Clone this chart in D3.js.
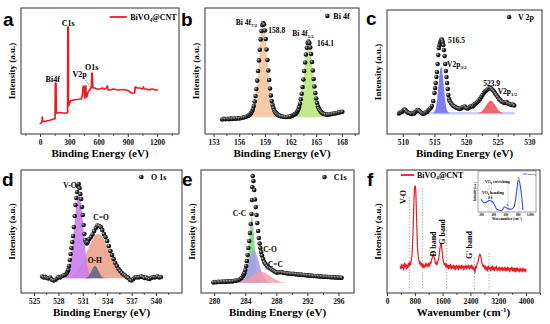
<!DOCTYPE html>
<html>
<head>
<meta charset="utf-8">
<script src="https://cdn.jsdelivr.net/npm/d3@7"></script>
<style>
  body { margin: 0; background: #fff; }
  svg text { font-family: "Liberation Serif", "Times New Roman", serif; font-weight: bold; }
</style>
</head>
<body>
<svg id="fig" width="550" height="324"></svg>
<script>
// ---- data (x in eV or cm-1, y in arbitrary intensity units) ----

// a: XPS survey
const surveyA = [[0,10],[10,11],[14,11],[20,12],[24,17],[28,12.5],[31,13],[50,12.5],[65,13],[90,13.5],[110,14],[134,15],[150,15],[154,15.5],[157,51],[161,51],[164,51],[167,22],[170,21],[200,21.5],[240,21],[270,21],[283,21.5],[285,107],[290,107],[292,28],[300,30],[311,33],[339,34],[380,34.5],[424,35],[434,39],[441,47],[446,48],[452,48],[456,37],[460,36],[465,47],[470,48],[473,37],[479,37],[493,42],[510,44],[527,47],[531,61],[537,60],[541,47],[547,46],[561,46],[580,45],[612,45],[640,46],[660,45],[681,46],[690,48],[698,44],[720,44],[749,45],[800,44],[850,44.5],[886,44],[910,43],[937,41],[960,41],[971,41],[975,47],[980,47],[1000,46],[1022,46],[1050,45],[1060,47],[1070,45],[1091,45],[1120,44],[1140,45],[1159,45],[1180,44],[1210,44]];
const ticksA = [0, 300, 600, 900, 1200];

// b: Bi 4f
const bi4f = [[154.0,14.5],[154.2,15.2],[154.4,14.8],[154.6,15.3],[154.8,14.9],[155.0,15.4],[155.2,15.1],[155.4,15.5],[155.6,15.3],[155.8,15.8],[156.0,15.6],[156.2,16.0],[156.4,16.3],[156.6,16.8],[156.8,17.3],
  [157.0,18],[157.1,18.5],[157.2,19],[157.3,20],[157.4,21],[157.5,22.7],[157.6,25],[157.7,28],[157.8,32.5],[157.9,38],[158.0,45],[158.1,53.4],[158.2,63],[158.3,73.6],[158.4,84.3],[158.5,94.6],[158.6,103],[158.7,109],[158.8,111],[158.9,109.5],[159.0,103.5],[159.1,95],[159.2,84.5],[159.3,74],[159.4,63.5],[159.5,54],[159.6,45.5],[159.7,38.5],[159.8,33],[159.9,29],[160.0,26],[160.1,23.5],[160.2,22],[160.3,21],[160.4,20],[160.5,19.3],[160.6,18.8],[160.7,18.3],[160.8,17.9],
  [161.0,17.5],[161.2,17.2],[161.4,17],[161.6,17],[161.8,17.2],[162.0,17.6],[162.2,18.3],
  [162.3,19],[162.4,19.2],[162.5,19.8],[162.6,20.3],[162.7,21.3],[162.8,22.6],[162.9,24.4],[163.0,27],[163.1,30.3],[163.2,34.7],[163.3,40.2],[163.4,47],[163.5,54.5],[163.6,63],[163.7,71.5],[163.8,79.5],[163.9,86.3],[164.0,91],[164.1,92.5],[164.2,91],[164.3,86.5],[164.4,80],[164.5,72],[164.6,63.5],[164.7,55],[164.8,47.5],[164.9,41],[165.0,35.5],[165.1,31],[165.2,27.8],[165.3,25.5],[165.4,24],[165.5,22.8],[165.6,21.8],[165.7,21],[165.8,20.5],[165.9,20],
  [166.1,19.6],[166.3,19.4],[166.5,19.5],[166.7,19.8],[166.9,20.1],[167.1,20.5],[167.3,20.8],[167.5,21.2],[167.7,21.6],[167.9,22],[168.05,22.3]];
const bi4f72 = [[157.0,16.7],[157.3,17.5],[157.5,20],[157.7,25],[157.9,35],[158.1,51],[158.3,72],[158.5,93],[158.7,108],[158.8,110],[158.9,108.5],[159.1,94],[159.3,73],[159.5,53],[159.7,37.5],[159.9,28],[160.1,22.5],[160.3,19.5],[160.6,17.5],[161.0,16.7]];
const bi4f52 = [[162.4,16.7],[162.7,18.5],[162.9,21.5],[163.1,27.5],[163.3,37.5],[163.5,52],[163.7,69],[163.9,84],[164.1,90.5],[164.3,84.5],[164.5,70],[164.7,53],[164.9,39],[165.1,29],[165.3,23.5],[165.5,20.5],[165.8,18],[166.2,16.7]];
const ticksB = [153, 156, 159, 162, 165, 168];

// c: V 2p
const v2p = [[509.4,20.5],[509.6,21.5],[509.8,22],[510.0,23],[510.2,24.5],[510.4,24],[510.6,22.5],[510.8,21.5],[511.0,21],[511.2,20.5],[511.4,20],[511.6,21],[511.8,20.5],[512.0,22],[512.2,23.5],[512.4,24],[512.6,23],[512.8,22],[513.0,21],[513.2,20],[513.4,20.5],[513.6,21.5],[513.8,22],[514.0,23.5],[514.2,24.5],[514.4,26],[514.6,28],[514.8,33],
  [515.0,41],[515.1,46],[515.2,51],[515.3,57],[515.4,62],[515.5,70],[515.6,79],[515.7,86],[515.8,89],[515.9,91.5],[516.0,93],[516.1,94.5],[516.2,94],[516.3,92],[516.4,89],[516.5,84],[516.6,78],[516.7,70],[516.8,63],[516.9,57],[517.0,51],[517.1,45],[517.2,39],[517.3,35],[517.4,33],
  [517.6,31],[517.8,29.5],[518.0,28],[518.2,27.5],[518.4,26.5],[518.6,26],[518.8,25.5],[519.0,25],[519.2,25.5],[519.4,26.5],[519.6,27],[519.8,27.5],[520.0,26],[520.2,25.5],[520.4,26],[520.6,27],[520.8,28],[521.0,27.5],[521.2,28.5],[521.4,30],[521.6,31],[521.8,32],[522.0,33.5],[522.2,35],[522.4,37],[522.6,39],[522.8,41],[523.0,42.5],[523.2,43.5],[523.4,44.5],[523.6,45.5],[523.8,46],[524.0,45.5],[524.2,44],[524.4,42.5],[524.6,40.5],[524.8,39],[525.0,37],[525.2,35],[525.4,34],[525.6,32.5],[525.8,32],[526.0,31],[526.2,31.5],[526.4,32],[526.6,30.5],[526.8,30],[527.0,29.5],[527.2,29],[527.4,29.5],[527.6,28.5]];
const v2p32 = [[514.6,20.7],[514.9,21.5],[515.05,22.9],[515.15,24.6],[515.25,27.2],[515.35,31],[515.45,36.1],[515.55,42.3],[515.65,49.2],[515.75,56.1],[515.85,61.9],[515.95,65.9],[516.05,67.3],[516.15,65.9],[516.25,61.9],[516.35,56.1],[516.45,49.2],[516.55,42.3],[516.65,36.1],[516.75,31],[516.85,27.2],[516.95,24.6],[517.05,22.9],[517.2,21.5],[517.5,20.7]];
const v2p12 = [[521.4,20.7],[521.9,21],[522.15,21.5],[522.4,22.3],[522.65,23.7],[522.9,25.7],[523.15,28.2],[523.4,30.7],[523.65,32.6],[523.9,33.3],[524.15,32.6],[524.4,30.7],[524.65,28.2],[524.9,25.7],[525.15,23.7],[525.4,22.3],[525.65,21.5],[525.9,21],[526.4,20.7]];
const v2pBackground = [[509.2,20.7],[527.7,20.7]];
const ticksC = [510, 515, 520, 525, 530];

// d: O 1s
const o1s = [[526.0,16.5],[526.2,15.5],[526.4,16],[526.6,15],[526.8,14.5],[527.0,15.5],[527.2,13.5],[527.4,12.5],[527.6,13],[527.8,14.5],[528.0,16],[528.2,15.5],[528.4,16.5],[528.6,17.5],[528.8,18],[529.0,19.5],
  [529.1,21],[529.2,23],[529.3,27],[529.4,33],[529.5,39],[529.6,45],[529.7,51],[529.8,57],[529.9,66],[530.0,77],[530.1,88],[530.2,95],[530.3,101],[530.4,107],[530.5,109],[530.6,105],[530.7,99],[530.8,94],[530.9,86],[531.0,78],[531.1,68],[531.2,59],[531.3,53],[531.4,50.5],[531.5,49.5],
  [531.6,51],[531.8,54],[532.0,56],[532.2,58.5],[532.4,62],[532.6,65],[532.8,67.5],[533.0,67],[533.2,66],[533.4,63],[533.6,59],[533.8,56],[534.0,52],[534.2,47],[534.4,42],[534.6,38],[534.8,34],[535.0,30],[535.2,27],[535.4,24],[535.6,22],[535.8,20],[536.0,18.5],[536.2,17.5],[536.4,16],[536.6,15],[536.8,13],[537.0,12.5],[537.2,14],[537.4,15.5],[537.6,16],[537.8,15.5],[538.0,16],[538.2,16.5],[538.4,16],[538.6,15],[538.8,15.5],[539.0,14.5],[539.2,14],[539.4,15],[539.6,16],[539.8,15.5],[540.0,16],[540.2,16.5],[540.4,15.5],[540.6,16]];
const o1sVO = [[528.6,14.7],[528.9,16],[529.1,18.1],[529.3,22.8],[529.5,31.3],[529.7,44.7],[529.9,62.1],[530.1,80.5],[530.3,94.8],[530.5,100.3],[530.7,94.8],[530.9,80.5],[531.1,62.1],[531.3,44.7],[531.5,31.3],[531.7,22.8],[531.9,18.1],[532.1,16],[532.4,14.7]];
const o1sCO = [[528.5,14.7],[528.9,15.3],[529.3,16],[529.7,17.5],[530.1,20],[530.5,24],[530.9,29.7],[531.3,36.9],[531.7,44.7],[532.1,52],[532.5,57.1],[532.9,59],[533.3,57.1],[533.7,52],[534.1,44.7],[534.5,36.9],[534.9,29.7],[535.3,24],[535.7,20],[536.1,17.5],[536.5,16],[536.9,15.3],[537.3,14.7]];
const o1sOH = [[531.2,14.7],[531.5,15.5],[531.7,16.8],[531.9,19.2],[532.1,22.6],[532.3,25.7],[532.5,27],[532.7,25.7],[532.9,22.6],[533.1,19.2],[533.3,16.8],[533.5,15.5],[533.8,14.7]];
const ticksD = [525, 528, 531, 534, 537, 540];

// e: C 1s
const c1s = [[279.9,10.5],[280.1,11],[280.3,10.8],[280.5,11.2],[280.7,11],[280.9,11.3],[281.1,11.2],[281.3,11.5],[281.5,11.3],[281.7,11.6],[281.9,11.5],[282.1,11.8],[282.3,11.6],[282.5,12],[282.7,12.2],[282.9,12.5],[283.1,13],[283.3,13.8],[283.5,15],[283.7,17],[283.8,18.5],[283.9,20],
  [284.0,23],[284.1,27],[284.2,32],[284.3,38],[284.4,45],[284.5,52],[284.6,60],[284.7,69],[284.8,79],[284.85,93],[284.9,106],[284.95,117],[285.05,112],[285.15,103],[285.25,93.5],[285.35,86],[285.45,78],[285.55,70],[285.65,62],[285.75,55],[285.85,49.5],[285.95,45],[286.05,41],[286.15,37.5],[286.3,34],[286.45,31],[286.6,29],[286.8,27],[287.0,25.5],[287.2,24.5],[287.4,23.5],[287.6,22.5],[287.8,21.5],[288.0,20.5],[288.2,20.5],[288.4,20.8],[288.6,21],[288.8,20.5],[289.0,20],
  [289.2,20],[289.4,19.5],[289.6,19.5],[289.8,19.3],[290.0,19],[290.2,19.2],[290.4,18.8],[290.6,18.8],[290.8,18.5],[291.0,18.3],[291.2,18.5],[291.4,18],[291.6,18],[291.8,17.8],[292.0,17.6],[292.2,17.5],[292.4,17.5],[292.6,17.3],[292.8,17],[293.0,17],[293.2,16.8],[293.4,16.8],[293.6,16.6],[293.8,16.5],[294.0,16.3],[294.2,16.3],[294.4,16.2],[294.6,16],[294.8,16],[295.0,15.8],[295.2,15.7],[295.4,15.7],[295.6,15.6],[295.8,15.5],[296.0,15.4],[296.2,15.3],[296.4,15.3]];
const c1sCC = [[283.65,10.3],[283.85,11.2],[283.95,12.3],[284.05,14.5],[284.15,18.2],[284.25,24.2],[284.35,32.7],[284.45,43.3],[284.55,55],[284.65,65.8],[284.75,73.5],[284.85,76.3],[284.95,73.5],[285.05,65.8],[285.15,55],[285.25,43.3],[285.35,32.7],[285.45,24.2],[285.55,18.2],[285.65,14.5],[285.75,12.3],[285.85,11.2],[286.05,10.3]];
const c1sCO = [[282.8,10.3],[283.1,10.7],[283.3,11.3],[283.5,12.4],[283.7,14.2],[283.9,17.2],[284.1,21.4],[284.3,26.7],[284.5,32.4],[284.7,37.8],[284.9,41.6],[285.1,43],[285.3,41.6],[285.5,37.8],[285.7,32.4],[285.9,26.7],[286.1,21.4],[286.3,17.2],[286.5,14.2],[286.7,12.4],[286.9,11.3],[287.1,10.7],[287.4,10.3]];
const c1sCeqC = [[282.4,10.3],[282.8,10.6],[283.2,11],[283.6,11.7],[284.0,13],[284.4,14.7],[284.8,16.9],[285.2,19.1],[285.6,20.7],[286.0,21.3],[286.4,20.7],[286.8,19.1],[287.2,16.9],[287.6,14.7],[288.0,13],[288.4,11.7],[288.8,11],[289.2,10.6],[289.6,10.3]];
const ticksE = [280, 284, 288, 292, 296];

// f: Raman
const raman = [[380,27],[400,24],[420,29],[440,25],[460,28],[480,23],[500,30],[520,26],[540,29],[560,24],[580,28],[600,25],[620,30],[640,27],[660,31],[680,28],[700,33],[720,38],[740,53],[755,68],[767,83],[778,95],[787,103],[796,106],[806,107],[815,107],[825,104],[835,94],[844,83],[858,66],[873,50],[887,41],[900,36],[921,32],[940,29],[960,31],[980,27],[1000,30],[1020,26],[1040,29],[1060,25],[1080,28],[1100,26],[1120,30],[1140,27],[1160,29],[1180,26],[1200,30],[1220,27],[1240,31],[1260,29],[1280,33],[1300,35],[1320,38],[1340,39],[1360,35],[1380,32],[1400,29],[1420,31],[1440,28],[1460,32],[1480,33],[1500,38],[1520,44],[1540,48],[1555,50],[1570,47],[1590,40],[1610,34],[1630,30],[1650,28],[1670,30],[1690,26],[1710,29],[1730,25],[1750,28],[1770,24],[1790,28],[1810,25],[1830,29],[1850,24],[1870,27],[1890,25],[1910,28],[1930,24],[1950,27],[1970,23],[1990,28],[2010,25],[2030,27],[2050,23],[2070,28],[2090,25],[2110,27],[2130,24],[2150,28],[2170,25],[2190,27],[2210,23],[2230,27],[2250,25],[2270,28],[2290,24],[2310,27],[2330,25],[2350,28],[2370,24],[2390,27],[2410,25],[2430,28],[2450,24],[2470,27],[2490,23],[2510,25],[2530,20],[2550,27],[2570,25],[2590,29],[2610,30],[2630,33],[2650,37],[2670,39],[2690,38],[2710,34],[2730,30],[2750,28],[2770,26],[2790,28],[2810,24],[2830,27],[2850,23],[2870,26],[2890,22],[2910,27],[2930,24],[2950,26],[2970,22],[2990,26],[3010,23],[3030,27],[3050,23],[3070,26],[3090,22],[3110,26],[3130,24],[3150,27],[3170,22],[3190,25],[3210,23],[3230,26],[3250,22],[3270,25],[3290,23],[3310,26],[3330,22],[3350,25],[3370,23],[3390,26],[3410,22],[3430,25],[3450,22],[3470,26],[3490,23],[3510,25],[3530,21],[3550,25],[3570,23],[3590,26],[3610,22],[3630,25],[3650,22],[3670,25],[3690,21],[3710,25],[3730,22],[3750,25],[3770,22],[3790,24],[3810,21],[3830,25],[3850,22],[3870,24],[3890,21],[3910,25],[3930,22],[3950,24],[3970,21],[3990,24],[4000,22]];
const ramanGuides = [[643, 96], [1017, 105], [1717, 66], [2513, 35], [2935, 40]]; // [wavenumber, top]
const ticksF = [0, 800, 1600, 2400, 3200, 4000];
// inset: pure BiVO4
const insetBiVO4 = [[200,12.7],[251,9.3],[303,10.3],[330,11.5],[355,11.3],[380,10.5],[406,8.7],[458,2.7],[535,1.3],[587,5.3],[628,3.7],[690,2.7],[742,5.3],[783,20.3],[804,30.3],[819,32],[845,25.3],[866,15.3],[886,2]];
const insetGuides = [330, 370, 640, 820];
const insetTicks = [200, 400, 600, 800, 1000];

// ---- drawing ----
const svg = d3.select("#fig");
const defs = svg.append("defs");
const ball = defs.append("radialGradient").attr("id", "ball")
  .attr("cx", "35%").attr("cy", "35%").attr("r", "70%");
ball.append("stop").attr("offset", "0%").attr("stop-color", "#bdbdbd");
ball.append("stop").attr("offset", "45%").attr("stop-color", "#2a2a2a");
ball.append("stop").attr("offset", "100%").attr("stop-color", "#000");

const RED = "#ec1c24";
const DOT_R = 2.3;

function panel(p) {
  const x = d3.scaleLinear().domain(p.dom).range([p.left, p.right]);
  const y = d3.scaleLinear().domain([0, p.bottom - p.top]).range([p.bottom, p.top]);
  defs.append("clipPath").attr("id", "clip-" + p.letter)
    .append("rect").attr("x", p.left).attr("y", p.top)
    .attr("width", p.right - p.left).attr("height", p.bottom - p.top);
  const g = svg.append("g");
  const plot = g.append("g").attr("clip-path", `url(#clip-${p.letter})`);
  return { p, g, plot, x, y };
}

function frame(P) {
  const { p, g, x } = P;
  g.append("rect").attr("x", p.left).attr("y", p.top)
    .attr("width", p.right - p.left).attr("height", p.bottom - p.top)
    .attr("fill", "none").attr("stroke", "#333").attr("stroke-width", 1);
  // minor ticks
  const minor = g.append("g").attr("transform", `translate(0,${p.bottom})`)
    .call(d3.axisBottom(x).tickValues(p.minor).tickSize(1.8).tickFormat(""));
  minor.select(".domain").remove();
  minor.selectAll("line").attr("stroke", "#333");
  const ax = g.append("g").attr("transform", `translate(0,${p.bottom})`)
    .call(d3.axisBottom(x).tickValues(p.major).tickSize(3).tickPadding(2.5).tickFormat(d3.format("d")));
  ax.select(".domain").remove();
  ax.attr("font-size", 7.5).attr("font-family", "Liberation Serif, serif");
  ax.selectAll("line").attr("stroke", "#333");
  ax.selectAll("text").attr("fill", "#111");
  // axis titles
  g.append("text").attr("x", (p.left + p.right) / 2).attr("y", p.bottom + 23)
    .attr("text-anchor", "middle").attr("font-size", 11).text(p.xlab || "Binding Energy (eV)");
  g.append("text").attr("transform", `translate(${p.left - 9},${(p.top + p.bottom) / 2}) rotate(-90)`)
    .attr("text-anchor", "middle").attr("dy", "0.35em").attr("font-size", 9).text("Intensity (a.u.)");
  // panel letter
  g.append("text").attr("x", p.lx).attr("y", p.ly).attr("font-size", 19)
    .style("font-family", "Liberation Sans, Arial, sans-serif").text(p.letter);
}

function dots(P, data) {
  P.plot.append("g").selectAll("circle").data(data).join("circle")
    .attr("cx", d => P.x(d[0])).attr("cy", d => P.y(d[1])).attr("r", DOT_R)
    .attr("fill", "url(#ball)");
}

function fillPeak(P, data, color, base, opacity) {
  const area = d3.area().x(d => P.x(d[0])).y0(P.y(base)).y1(d => P.y(d[1])).curve(d3.curveMonotoneX);
  P.plot.append("path").datum(data).attr("d", area).attr("fill", color).attr("fill-opacity", opacity || 1);
}

// text with optional {sub: ".."} parts
function label(P, xv, yv, parts, size, anchor) {
  const fs = size || 8;
  const t = P.g.append("text").attr("x", P.x(xv)).attr("y", P.y(yv))
    .attr("font-size", fs).attr("text-anchor", anchor || "start");
  let shift = 0;
  parts.forEach(s => {
    if (typeof s === "string") {
      t.append("tspan").attr("dy", -shift).text(s);
      shift = 0;
    } else {
      t.append("tspan").attr("font-size", fs * 0.65).attr("dy", 2).text(s.sub);
      shift = 2;
    }
  });
  return t;
}

function dotLegend(P, xv, yv, tx, text) {
  P.g.append("circle").attr("cx", P.x(xv)).attr("cy", P.y(yv)).attr("r", DOT_R).attr("fill", "url(#ball)");
  label(P, tx, yv - 3, [text], 8);
}

// ---------- a ----------
const A = panel({ letter: "a", left: 21, right: 179, top: 8, bottom: 134, dom: [-195, 1425],
  major: ticksA, minor: [-150, 150, 450, 750, 1050, 1350], lx: 3, ly: 26 });
A.plot.append("path").datum(surveyA)
  .attr("d", d3.line().x(d => A.x(d[0])).y(d => A.y(d[1])))
  .attr("fill", "none").attr("stroke", RED).attr("stroke-width", 1.7).attr("stroke-linejoin", "round");
label(A, 290, 108, ["C1s"], 8, "middle");
label(A, 130, 52, ["Bi4f"], 8, "middle");
label(A, 405, 57, ["V2p"], 8, "middle");
label(A, 530, 64, ["O1s"], 8, "middle");
A.g.append("line").attr("x1", A.x(452)).attr("y1", A.y(56)).attr("x2", A.x(515)).attr("y2", A.y(47))
  .attr("stroke", "#555").attr("stroke-width", 0.7).attr("stroke-dasharray", "1.5,1");
A.g.append("line").attr("x1", A.x(715)).attr("x2", A.x(890)).attr("y1", A.y(117)).attr("y2", A.y(117))
  .attr("stroke", RED).attr("stroke-width", 1.8);
label(A, 925, 114, ["BiVO", { sub: "4" }, "@CNT"], 8);
frame(A);

// ---------- b ----------
const B = panel({ letter: "b", left: 205, right: 359, top: 8, bottom: 134, dom: [152, 170],
  major: ticksB, minor: [154.5, 157.5, 160.5, 163.5, 166.5, 169.5], lx: 181, ly: 26 });
fillPeak(B, bi4f72, "#f7caa8", 16.7);
fillPeak(B, bi4f52, "#c1ea8e", 16.7);
dots(B, bi4f);
label(B, 155.6, 109, ["Bi 4f", { sub: "7/2" }], 7.5);
label(B, 159.4, 101, ["158.8"], 7.5);
label(B, 162.2, 98, ["Bi 4f", { sub: "5/2" }], 7.5);
label(B, 165.1, 88, ["164.1"], 7.5);
dotLegend(B, 166.3, 118, 167.0, "Bi 4f");
frame(B);

// ---------- c ----------
const C = panel({ letter: "c", left: 387, right: 542, top: 10, bottom: 134, dom: [507.5, 532],
  major: ticksC, minor: [512.5, 517.5, 522.5, 527.5], lx: 366, ly: 25 });
C.plot.append("path").datum(v2pBackground)
  .attr("d", d3.line().x(d => C.x(d[0])).y(d => C.y(d[1])))
  .attr("stroke", "#cdd0f6").attr("stroke-width", 2.5).attr("fill", "none");
fillPeak(C, v2p32, "#7f7df2", 20.7);
fillPeak(C, v2p12, "#f2636f", 20.7);
dots(C, v2p);
label(C, 517.15, 91, ["516.5"], 7.5);
label(C, 517.0, 67, ["V2p", { sub: "3/2" }], 7.5);
label(C, 522.7, 48, ["523.9"], 7.5);
label(C, 525.0, 40, ["V2p", { sub: "1/2" }], 7.5);
dotLegend(C, 526.8, 117, 528.2, "V 2p");
frame(C);

// ---------- d ----------
const D = panel({ letter: "d", left: 21, right: 182, top: 170, bottom: 293, dom: [523.4, 543.2],
  major: ticksD, minor: [526.5, 529.5, 532.5, 535.5, 538.5, 541.5], lx: 2, ly: 186 });
fillPeak(D, o1sCO, "#eeab95", 14.7);
fillPeak(D, o1sVO, "#c97ff0", 14.7, 0.9);
fillPeak(D, o1sOH, "#6e6e84", 14.7);
dots(D, o1s);
label(D, 528.6, 105, ["V-O"], 7.5);
label(D, 532.3, 73, ["C=O"], 7.5);
label(D, 531.6, 30, ["O-H"], 7.5);
dotLegend(D, 538.2, 116, 539.4, "O 1s");
frame(D);

// ---------- e ----------
const E = panel({ letter: "e", left: 201, right: 354, top: 170, bottom: 293, dom: [278.3, 298],
  major: ticksE, minor: [282, 286, 290, 294], lx: 182, ly: 186 });
fillPeak(E, c1sCC, "#8fdc8f", 10.3);
fillPeak(E, c1sCO, "#a49cf2", 10.3, 0.85);
fillPeak(E, c1sCeqC, "#f59aa3", 10.3, 0.8);
dots(E, c1s);
label(E, 282.4, 77, ["C-C"], 7.5);
label(E, 286.3, 41, ["C-O"], 7.5);
label(E, 286.9, 26, ["C=C"], 7.5);
dotLegend(E, 294.2, 116, 295.4, "C1s");
frame(E);

// ---------- f ----------
const F = panel({ letter: "f", left: 387, right: 540, top: 170, bottom: 293, dom: [0, 4400],
  major: ticksF, minor: [400, 1200, 2000, 2800, 3600, 4400], lx: 367, ly: 186,
  xlab: "Wavenumber (cm" });
F.plot.selectAll("line.guide").data(ramanGuides).join("line").attr("class", "guide")
  .attr("x1", d => F.x(d[0])).attr("x2", d => F.x(d[0]))
  .attr("y1", d => F.y(d[1])).attr("y2", F.y(3))
  .attr("stroke", "#9a9a9a").attr("stroke-width", 0.8).attr("stroke-dasharray", "1.5,1.5");
F.plot.append("path").datum(raman)
  .attr("d", d3.line().x(d => F.x(d[0])).y(d => F.y(d[1])))
  .attr("fill", "none").attr("stroke", RED).attr("stroke-width", 1.2).attr("stroke-linejoin", "round");
F.g.append("line").attr("x1", F.x(400)).attr("x2", F.x(780)).attr("y1", F.y(118)).attr("y2", F.y(118))
  .attr("stroke", RED).attr("stroke-width", 1.8);
label(F, 860, 115, ["BiVO", { sub: "4" }, "@CNT"], 8);
[["V-O", 460, 96], ["D band", 1324, 49], ["G band", 1583, 61], ["G' band", 2360, 48]].forEach(([t, xv, yv]) => {
  F.g.append("text").attr("transform", `translate(${F.x(xv)},${F.y(yv)}) rotate(-90)`)
    .attr("text-anchor", "middle").attr("dy", "0.35em").attr("font-size", 8).text(t);
});
frame(F);
// superscript for the f axis title
F.g.selectAll("text").filter(function () { return d3.select(this).text() === "Wavenumber (cm"; })
  .each(function () {
    const t = d3.select(this);
    t.append("tspan").attr("font-size", 7).attr("dy", -4).text("-1");
    t.append("tspan").attr("dy", 4).text(")");
  });

// inset
const I = { left: 478, right: 536, top: 171, bottom: 212 };
const ix = d3.scaleLinear().domain([150, 1100]).range([I.left, I.right]);
const iy = d3.scaleLinear().domain([0, 41]).range([I.bottom, I.top]);
const ig = svg.append("g");
ig.append("rect").attr("x", I.left).attr("y", I.top).attr("width", I.right - I.left).attr("height", I.bottom - I.top)
  .attr("fill", "#fff").attr("stroke", "#444").attr("stroke-width", 0.5);
ig.selectAll("line.ig").data(insetGuides).join("line").attr("class", "ig")
  .attr("x1", d => ix(d)).attr("x2", d => ix(d)).attr("y1", iy(30)).attr("y2", iy(0))
  .attr("stroke", "#aaa").attr("stroke-width", 0.4);
ig.append("path").datum(insetBiVO4)
  .attr("d", d3.line().x(d => ix(d[0])).y(d => iy(d[1])).curve(d3.curveMonotoneX))
  .attr("fill", "none").attr("stroke", "#2f4ff0").attr("stroke-width", 1.1);
const iax = ig.append("g").attr("transform", `translate(0,${I.bottom})`)
  .call(d3.axisBottom(ix).tickValues(insetTicks).tickSize(1).tickPadding(0.8));
iax.select(".domain").remove();
iax.attr("font-size", 3).attr("font-family", "Liberation Serif, serif");
iax.selectAll("line").attr("stroke", "#444").attr("stroke-width", 0.4);
ig.append("text").attr("x", (I.left + I.right) / 2).attr("y", I.bottom + 8).attr("text-anchor", "middle")
  .attr("font-size", 3.5).text("Wavenumber (cm\u207B\u00B9)");
ig.append("text").attr("transform", `translate(${I.left - 2.5},${(I.top + I.bottom) / 2}) rotate(-90)`)
  .attr("text-anchor", "middle").attr("font-size", 3).text("Intensity (a.u.)");
ig.append("text").attr("x", ix(260)).attr("y", iy(29)).attr("font-size", 4).text("VO\u2084 stretching");
ig.append("text").attr("x", ix(215)).attr("y", iy(18)).attr("font-size", 4).text("VO\u2084 bending");
ig.append("line").attr("x1", ix(880)).attr("x2", ix(960)).attr("y1", iy(38)).attr("y2", iy(38))
  .attr("stroke", "#2f4ff0").attr("stroke-width", 0.8);
ig.append("text").attr("x", ix(970)).attr("y", iy(37)).attr("font-size", 2.8).text("BiVO\u2084");
[["\u03B4", 330, 13], ["\u03B4", 370, 13], ["\u03BD\u2083", 640, 6], ["\u03BD\u2081", 820, 33]].forEach(([t, xv, yv]) => {
  ig.append("text").attr("x", ix(xv)).attr("y", iy(yv)).attr("text-anchor", "middle").attr("font-size", 3).text(t);
});
</script>
</body>
</html>
